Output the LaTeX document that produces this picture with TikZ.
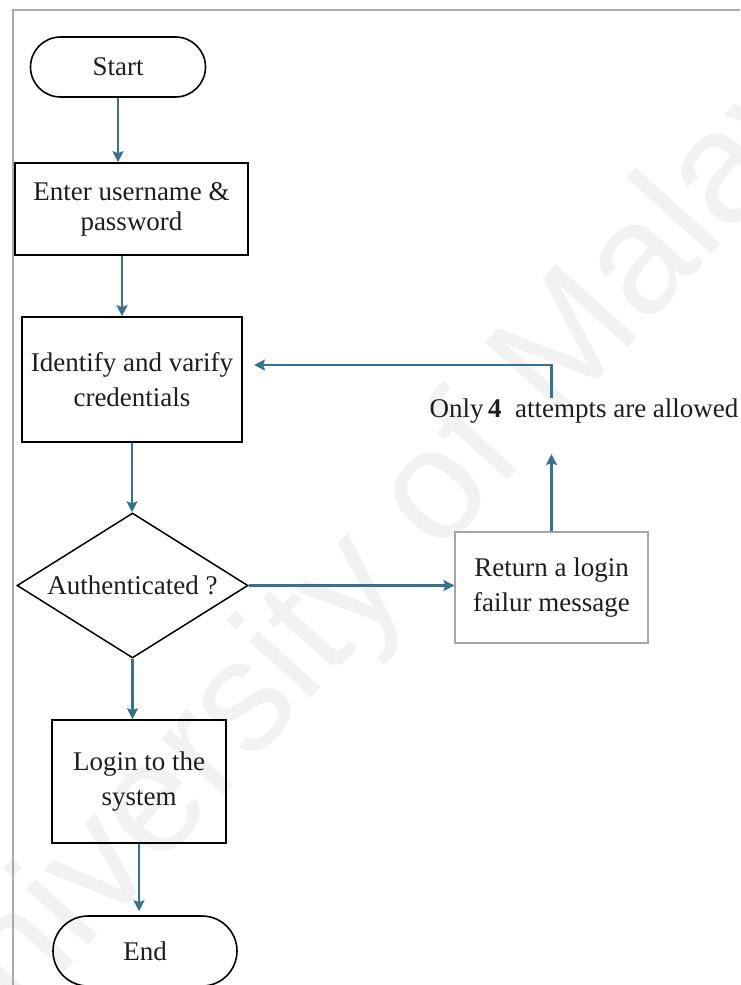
\documentclass[tikz,border=0pt]{standalone}
\usepackage{fontspec}
\setmainfont{Liberation Serif}
\newfontfamily\wmfont{Liberation Sans}
\usetikzlibrary{shapes.geometric,shapes.misc,arrows.meta}

\definecolor{flowblue}{RGB}{52,115,148}
\definecolor{frameg}{RGB}{170,170,170}
\definecolor{inkc}{RGB}{30,30,30}

\tikzset{
  base/.style={font=\fontsize{27}{35}\selectfont, text=inkc, align=center, inner sep=0pt},
  term/.style={base, draw=black, line width=1.6pt, rounded rectangle},
  procbox/.style={base, draw=black, line width=1.6pt, rectangle},
  softbox/.style={base, draw=gray!70, line width=1.2pt, rectangle},
  decide/.style={base, draw=black, line width=1.5pt, diamond, aspect=1.6},
  arr/.style={draw=flowblue, line width=2.2pt,
    -{Stealth[length=11pt,width=11pt,inset=2pt]}}
}

\begin{document}
\begin{tikzpicture}[x=1pt,y=-1pt]
  \useasboundingbox (0,0) rectangle (740,985);
  \fill[white] (0,0) rectangle (740,985);

  % faint watermark
  \node[rotate=48, text=black!5, inner sep=0pt,
        font=\wmfont\fontsize{158}{160}\selectfont] (wm) at (392,548)
        {University of Malaya};

  % page frame
  \draw[frameg, line width=1.8pt] (13,985) -- (13,10) -- (740,10);

  % nodes
  \node[term, minimum width=175, minimum height=60] (start) at (118,67) {Start};
  \node[procbox, minimum width=233, minimum height=92,
        font=\fontsize{27}{30}\selectfont] (enter) at (131.5,209)
        {Enter username \&\\password};
  \node[procbox, minimum width=220, minimum height=125] (ident) at (132,379.5)
        {Identify and varify\\credentials};
  \node[decide, minimum width=231, minimum height=145] (auth) at (132.5,585.5)
        {Authenticated ?};
  \node[softbox, minimum width=193, minimum height=111] (fail) at (551.5,587.5)
        {Return a login\\failur message};
  \node[base] (note) at (584,411)
        {Only\,\textbf{4}\ \ attempts are allowed};
  \node[procbox, minimum width=174, minimum height=123] (login) at (139,781.5)
        {Login to the\\system};
  \node[term, minimum width=184, minimum height=70] (end) at (145,951) {End};

  % free ends of the retry loop
  \coordinate (uptip) at (551.5,454);
  \coordinate (loopfoot) at (551.5,398);
  \coordinate (backtip) at (254,365);

  % connectors
  \draw[arr] (start.south) -- (start.south |- enter.north);
  \draw[arr] ([xshift=-9.5pt]enter.south) -- ([xshift=-9.5pt]enter.south |- ident.north);
  \draw[arr] (ident.south) -- (ident.south |- auth.north);
  \draw[arr] (auth.east) -- (auth.east -| fail.west);
  \draw[arr] (fail.north) -- (uptip);
  \draw[arr] (loopfoot) |- (backtip);
  \draw[arr] (auth.south) -- (auth.south |- login.north);
  \draw[arr] (login.south) -- ([yshift=4pt]login.south |- end.north);
\end{tikzpicture}
\end{document}
